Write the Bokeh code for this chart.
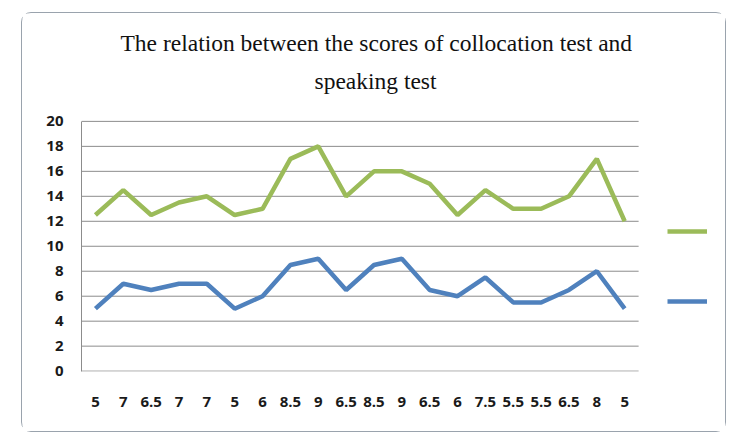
from bokeh.plotting import figure
from bokeh.models import (Range1d, FixedTicker, Legend, LegendItem, Label)
from bokeh.embed import file_html
from bokeh.resources import INLINE

x_labels = ["5", "7", "6.5", "7", "7", "5", "6", "8.5", "9", "6.5",
            "8.5", "9", "6.5", "6", "7.5", "5.5", "5.5", "6.5", "8", "5"]
collocation = [5, 7, 6.5, 7, 7, 5, 6, 8.5, 9, 6.5,
               8.5, 9, 6.5, 6, 7.5, 5.5, 5.5, 6.5, 8, 5]
speaking = [12.5, 14.5, 12.5, 13.5, 14, 12.5, 13, 17, 18, 14,
            16, 16, 15, 12.5, 14.5, 13, 13, 14, 17, 12]
y_ticks = [0, 2, 4, 6, 8, 10, 12, 14, 16, 18, 20]
title_lines = ["The relation between the scores of collocation test and",
               "speaking test"]

xs = list(range(len(x_labels)))
n = len(x_labels)

# frame covers the title and legend area; data occupy the lower-left part
p = figure(width=705, height=420, output_backend="svg", toolbar_location=None,
           x_range=Range1d(-0.5, 22.26),
           y_range=Range1d(-0.03, 28.64),
           min_border_left=59, min_border_right=12, min_border_top=0,
           min_border_bottom=62)
p.styles = {"border": "1px solid #9aa3ad", "border-radius": "10px",
            "margin-left": "21px", "margin-top": "12px"}
p.outline_line_color = None
p.background_fill_color = "white"
p.border_fill_color = "white"

p.xgrid.grid_line_color = None
p.ygrid.grid_line_color = None

# horizontal gridlines spanning only the category area
p.segment(x0=[-0.5] * len(y_ticks), x1=[n - 0.5] * len(y_ticks),
          y0=y_ticks, y1=y_ticks, line_color="#8c8c8c", line_width=1)

p.yaxis.ticker = FixedTicker(ticks=y_ticks)
p.yaxis.bounds = (y_ticks[0], y_ticks[-1])
p.yaxis.axis_line_color = "#8c8c8c"
p.yaxis.major_tick_line_color = None
p.yaxis.minor_tick_line_color = None
p.yaxis.major_label_standoff = 12
p.yaxis.major_label_text_font = "Open Sans"
p.yaxis.major_label_text_font_style = "bold"
p.yaxis.major_label_text_font_size = "15px"
p.yaxis.major_label_text_color = "#1a1a1a"

p.xaxis.ticker = FixedTicker(ticks=xs)
p.xaxis.major_label_overrides = {i: s for i, s in enumerate(x_labels)}
p.xaxis.axis_line_color = None
p.xaxis.major_tick_line_color = None
p.xaxis.minor_tick_line_color = None
p.xaxis.major_label_standoff = 19
p.xaxis.major_label_text_font = "Open Sans"
p.xaxis.major_label_text_font_style = "bold"
p.xaxis.major_label_text_font_size = "15px"
p.xaxis.major_label_text_color = "#1a1a1a"

r_s = p.line(xs, speaking, line_color="#9BBB59", line_width=4.5)
r_c = p.line(xs, collocation, line_color="#4F81BD", line_width=4.5)

legend = Legend(items=[LegendItem(label=" ", renderers=[r_s]),
                       LegendItem(label=" ", renderers=[r_c])],
                location=(586, 60), glyph_width=40, glyph_height=20,
                spacing=50, padding=0, margin=0, label_width=0,
                label_standoff=0, label_height=20,
                border_line_color=None, background_fill_alpha=0)
p.add_layout(legend)

for txt, lx, ly in zip(title_lines, [39, 233], [329, 291]):
    p.add_layout(Label(x=lx, y=ly, x_units="screen", y_units="screen",
                       text=txt, text_align="left", text_baseline="middle",
                       text_font="Liberation Serif", text_font_size="23.5px",
                       text_color="#111111"))

open("out.html", "w").write(file_html(p, INLINE))
